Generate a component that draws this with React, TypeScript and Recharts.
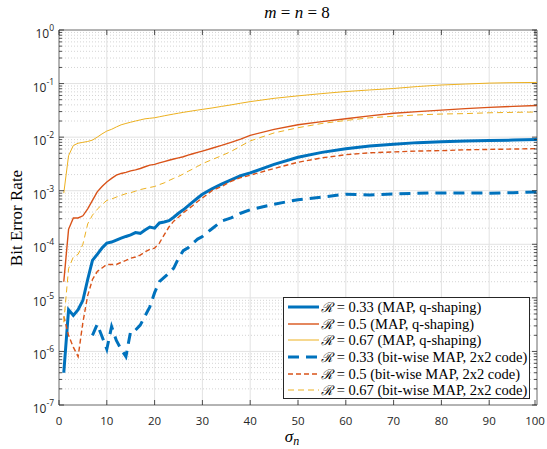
import { LineChart, Line, XAxis, YAxis, CartesianGrid, ReferenceLine, Legend, Label } from 'recharts'

// noise level sigma_n (x positions shared by all curves)
const sigma = [1, 2, 3, 4, 5, 6, 7, 8, 9, 10, 11, 12, 13, 14, 15, 16, 17, 18, 19, 20, 21, 22, 23, 24, 25, 26, 27, 28, 29, 30, 32, 34, 36, 38, 40, 45, 50, 55, 60, 65, 70, 75, 80, 85, 90, 95, 100]

// MAP, q-shaping
const map033 = [4.0e-7, 6.0e-6, 4.7e-6, 6.0e-6, 9.0e-6, 2.2e-5, 5.0e-5, 6.5e-5, 8.5e-5, 1.05e-4, 1.1e-4, 1.2e-4, 1.3e-4, 1.4e-4, 1.5e-4, 1.65e-4, 1.6e-4, 1.85e-4, 2.1e-4, 2.0e-4, 2.5e-4, 2.6e-4, 2.75e-4, 3.2e-4, 3.8e-4, 4.4e-4, 5.2e-4, 6.2e-4, 7.3e-4, 8.6e-4, 1.08e-3, 1.33e-3, 1.6e-3, 1.9e-3, 2.15e-3, 3.1e-3, 4.2e-3, 5.2e-3, 6.1e-3, 6.8e-3, 7.4e-3, 7.9e-3, 8.2e-3, 8.5e-3, 8.7e-3, 8.8e-3, 9.0e-3]
const map05 = [2.0e-5, 1.9e-4, 3.1e-4, 3.1e-4, 3.4e-4, 4.6e-4, 6.6e-4, 9.5e-4, 1.2e-3, 1.45e-3, 1.7e-3, 1.95e-3, 2.1e-3, 2.2e-3, 2.35e-3, 2.45e-3, 2.6e-3, 2.8e-3, 3.0e-3, 3.1e-3, 3.3e-3, 3.5e-3, 3.7e-3, 3.9e-3, 4.1e-3, 4.3e-3, 4.6e-3, 4.9e-3, 5.2e-3, 5.5e-3, 6.2e-3, 7.0e-3, 8.0e-3, 9.2e-3, 1.08e-2, 1.4e-2, 1.7e-2, 1.95e-2, 2.2e-2, 2.5e-2, 2.8e-2, 3.0e-2, 3.2e-2, 3.4e-2, 3.6e-2, 3.75e-2, 3.9e-2]
const map067 = [9.0e-4, 4.5e-3, 7.0e-3, 7.7e-3, 8.0e-3, 8.3e-3, 8.8e-3, 1.0e-2, 1.15e-2, 1.3e-2, 1.4e-2, 1.55e-2, 1.7e-2, 1.8e-2, 1.9e-2, 2.0e-2, 2.1e-2, 2.2e-2, 2.25e-2, 2.3e-2, 2.4e-2, 2.5e-2, 2.6e-2, 2.7e-2, 2.8e-2, 2.9e-2, 3.0e-2, 3.1e-2, 3.2e-2, 3.3e-2, 3.5e-2, 3.75e-2, 4.0e-2, 4.3e-2, 4.6e-2, 5.3e-2, 5.9e-2, 6.5e-2, 7.1e-2, 7.6e-2, 8.1e-2, 8.8e-2, 9.4e-2, 9.8e-2, 1.02e-1, 1.04e-1, 1.05e-1]

// bit-wise MAP, 2x2 code (null = no errors counted)
const bw033 = [null, null, null, null, null, null, 2.0e-6, 3.2e-6, 1.9e-6, 1.1e-6, 2.9e-6, 1.6e-6, 1.1e-6, 8.0e-7, 2.4e-6, 2.5e-6, 3.1e-6, 4.6e-6, 6.8e-6, 1.25e-5, 2.0e-5, 2.4e-5, 2.9e-5, 3.6e-5, 5.5e-5, 7.6e-5, 8.6e-5, 1.05e-4, 1.25e-4, 1.4e-4, 1.95e-4, 2.7e-4, 3.1e-4, 3.8e-4, 4.4e-4, 5.6e-4, 6.8e-4, 7.6e-4, 8.6e-4, 8.3e-4, 8.7e-4, 9.0e-4, 9.1e-4, 9.1e-4, 9.0e-4, 9.2e-4, 9.5e-4]
const bw05 = [4.5e-6, 2.0e-6, 1.2e-6, 8.0e-7, 3.5e-6, 1.1e-5, 2.2e-5, 3.1e-5, 3.6e-5, 4.2e-5, 4.2e-5, 4.2e-5, 4.6e-5, 5.0e-5, 5.5e-5, 5.8e-5, 6.3e-5, 7.2e-5, 8.0e-5, 8.5e-5, 1.05e-4, 1.5e-4, 2.1e-4, 2.7e-4, 3.2e-4, 3.9e-4, 4.5e-4, 5.3e-4, 6.3e-4, 7.3e-4, 1.0e-3, 1.2e-3, 1.5e-3, 1.75e-3, 1.95e-3, 2.6e-3, 3.4e-3, 4.1e-3, 4.7e-3, 5.1e-3, 5.3e-3, 5.5e-3, 5.6e-3, 5.8e-3, 5.9e-3, 6.0e-3, 6.1e-3]
const bw067 = [3.5e-6, 3.5e-5, 5.8e-5, 6.5e-5, 1.0e-4, 2.4e-4, 3.5e-4, 4.5e-4, 5.5e-4, 6.6e-4, 7.0e-4, 7.6e-4, 8.2e-4, 8.8e-4, 9.2e-4, 9.8e-4, 1.05e-3, 1.1e-3, 1.15e-3, 1.2e-3, 1.3e-3, 1.4e-3, 1.55e-3, 1.7e-3, 1.85e-3, 2.05e-3, 2.3e-3, 2.55e-3, 2.85e-3, 3.2e-3, 3.8e-3, 4.5e-3, 5.4e-3, 6.8e-3, 8.5e-3, 1.2e-2, 1.5e-2, 1.8e-2, 2.05e-2, 2.3e-2, 2.45e-2, 2.6e-2, 2.7e-2, 2.75e-2, 2.85e-2, 2.9e-2, 2.95e-2]

const xTicks = [0, 10, 20, 30, 40, 50, 60, 70, 80, 90, 100]
const yExponents = [-7, -6, -5, -4, -3, -2, -1, 0]
const yMantissas = [2, 3, 4, 5, 6, 7, 8, 9]

const majorY = yExponents.map((e) => Math.pow(10, e))
const minorY = yExponents.slice(0, -1).flatMap((e) => yMantissas.map((m) => m * Math.pow(10, e)))

const rows = sigma.map((s, i) => ({
  sigma: s,
  map033: map033[i],
  map05: map05[i],
  map067: map067[i],
  bw033: bw033[i],
  bw05: bw05[i],
  bw067: bw067[i],
}))

const BLUE = '#0072BD'
const ORANGE = '#D95319'
const YELLOW = '#EDB120'

const series = [
  { key: 'map033', label: '0.33 (MAP, q-shaping)', color: BLUE, width: 3, dash: undefined },
  { key: 'map05', label: '0.5 (MAP, q-shaping)', color: ORANGE, width: 1.4, dash: undefined },
  { key: 'map067', label: '0.67 (MAP, q-shaping)', color: YELLOW, width: 1, dash: undefined },
  { key: 'bw033', label: '0.33 (bit-wise MAP, 2x2 code)', color: BLUE, width: 3, dash: '11 7' },
  { key: 'bw05', label: '0.5 (bit-wise MAP, 2x2 code)', color: ORANGE, width: 1.4, dash: '5 3' },
  { key: 'bw067', label: '0.67 (bit-wise MAP, 2x2 code)', color: YELLOW, width: 1, dash: '6 4' },
]

const L = 59
const R = 537
const T = 30
const B = 405
const AX = '#262626'
const TICK_FONT = '"Open Sans", "Liberation Sans", sans-serif'
const SERIF = '"Liberation Serif", "DejaVu Serif", serif'

function YTick(props: any) {
  const { y, payload } = props
  const v = payload.value
  const e = Math.round(Math.log10(v))
  const major = Math.abs(Math.log10(v) - e) < 1e-6
  const len = major ? 5 : 3
  return (
    <g>
      <line x1={L} x2={L + len} y1={y} y2={y} stroke={AX} strokeWidth={0.8} />
      <line x1={R} x2={R - len} y1={y} y2={y} stroke={AX} strokeWidth={0.8} />
      {major && (
        <text x={54} y={y + 8} textAnchor="end" fontSize={12} fill={AX} fontFamily={TICK_FONT}>
          10
          <tspan dy={-7} fontSize={8.5}>{e}</tspan>
        </text>
      )}
    </g>
  )
}

function XTick(props: any) {
  const { x, payload } = props
  return (
    <g>
      <line x1={x} x2={x} y1={B} y2={B - 5} stroke={AX} strokeWidth={0.8} />
      <line x1={x} x2={x} y1={T} y2={T + 5} stroke={AX} strokeWidth={0.8} />
      <text x={x} y={425} textAnchor="middle" fontSize={11.5} fill={AX} fontFamily={TICK_FONT}>
        {payload.value}
      </text>
    </g>
  )
}

function LegendBox() {
  return (
    <div
      style={{
        width: 247,
        height: 102,
        boxSizing: 'border-box',
        border: '1px solid #262626',
        background: '#fff',
        paddingTop: 1,
        fontFamily: SERIF,
        fontSize: 14.5,
        color: '#000',
      }}
    >
      {series.map((s) => (
        <div key={s.key} style={{ display: 'flex', alignItems: 'center', height: 16.6, whiteSpace: 'nowrap' }}>
          <svg width={37} height={10} style={{ flex: 'none' }}>
            <line x1={4} x2={35} y1={5} y2={5} stroke={s.color} strokeWidth={s.width} strokeDasharray={s.dash} />
          </svg>
          <span>
            <span style={{ fontFamily: '"DejaVu Serif", serif', fontStyle: 'italic', fontSize: 13.5 }}>ℛ</span> = {s.label}
          </span>
        </div>
      ))}
    </div>
  )
}

export default function App() {
  return (
    <div style={{ position: 'absolute', left: 0, top: 0, width: 547, height: 449, background: '#fff' }}>
      <div
        style={{
          position: 'absolute',
          left: 0,
          width: 594,
          top: 3,
          textAlign: 'center',
          fontFamily: SERIF,
          fontSize: 17,
          color: '#000',
        }}
      >
        <i>m</i> = <i>n</i> = 8
      </div>
      <LineChart width={547} height={449} data={rows} margin={{ top: 30, right: 10, bottom: 14, left: 0 }}>
        <CartesianGrid horizontalValues={minorY} vertical={false} stroke="#d4d4d4" strokeDasharray="1 2" />
        <CartesianGrid horizontalValues={majorY} verticalValues={xTicks} stroke="#e2e2e2" />
        <XAxis
          dataKey="sigma"
          type="number"
          domain={[0, 100]}
          ticks={xTicks}
          tick={<XTick />}
          tickLine={false}
          axisLine={{ stroke: '#777' }}
          height={30}
          allowDataOverflow
        >
          <Label
            content={() => (
              <text x={292} y={442} textAnchor="middle" fontFamily={SERIF} fontSize={17} fill="#000">
                <tspan fontStyle="italic">σ</tspan>
                <tspan fontStyle="italic" fontSize={12} dy={3}>n</tspan>
              </text>
            )}
          />
        </XAxis>
        <YAxis
          scale="log"
          domain={[1e-7, 1]}
          ticks={[...majorY, ...minorY]}
          tick={<YTick />}
          tickLine={false}
          axisLine={{ stroke: '#777' }}
          width={59}
          allowDataOverflow
          interval={0}
        >
          <Label
            content={() => (
              <text
                x={22}
                y={218}
                transform="rotate(-90 22 218)"
                textAnchor="middle"
                fontFamily={SERIF}
                fontSize={17}
                fill="#000"
              >
                Bit Error Rate
              </text>
            )}
          />
        </YAxis>
        <ReferenceLine y={1} stroke="#777" />
        <ReferenceLine x={100} stroke="#777" />
        {series.map((s) => (
          <Line
            key={s.key}
            type="linear"
            dataKey={s.key}
            stroke={s.color}
            strokeWidth={s.width}
            strokeDasharray={s.dash}
            dot={false}
            activeDot={false}
            connectNulls={false}
            isAnimationActive={false}
          />
        ))}
        <Legend
          layout="horizontal"
          verticalAlign="middle"
          align="center"
          content={() => <LegendBox />}
          wrapperStyle={{ left: 283, top: 297, width: 247, height: 102 }}
        />
      </LineChart>
    </div>
  )
}
